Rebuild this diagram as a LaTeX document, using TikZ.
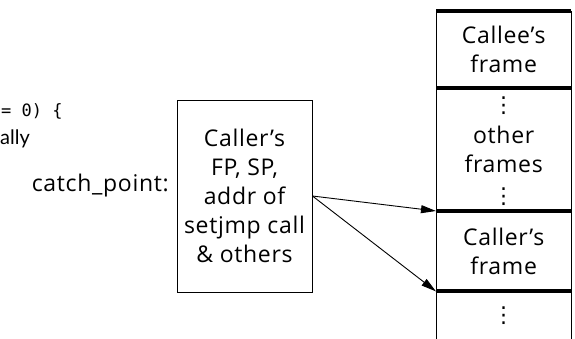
\documentclass[tikz,border=0pt]{standalone}
\usepackage{fontspec}
\setmainfont{Open Sans}[LetterSpace=3]
\newfontfamily\codefont{DejaVu Sans Mono}
\newfontfamily\slidefont{Lato}
\newfontfamily\symfont{DejaVu Sans}
\usetikzlibrary{arrows.meta}
\newcommand\vd{{\symfont\fontsize{22}{22}\selectfont ⋮}}
\begin{document}
\begin{tikzpicture}[x=1pt,y=-1pt,
  thinline/.style={line width=0.9pt},
  bar/.style={line width=4.5pt},
  txt/.style={font=\fontsize{23}{29}\selectfont, align=center, inner sep=0pt},
  framebox/.style={minimum width=135pt, inner sep=0pt, anchor=north west, txt},
  arr/.style={thinline, -{Triangle[length=15pt,width=8pt]}}]
\useasboundingbox (0,0) rectangle (575,339);
% partial code text at left
\node[anchor=west, inner sep=0pt, font=\codefont\fontsize{17}{20}\selectfont] (code) at (1,111) {= 0) \{};
\node[anchor=west, inner sep=0pt, font=\slidefont\fontsize{20}{22}\selectfont] (ally) at (0,139) {ally};
% jump buffer box
\node[draw, thinline, txt, minimum width=135pt, minimum height=192pt] (buf) at (244.5,196)
  {Caller's\\FP, SP,\\addr of\\setjmp call\\\& others};
\node[txt, anchor=east] (cp) at (169,186) {catch\_point:};
% stack frames
\node[framebox, minimum height=77pt] (callee) at (436,11) {Callee's\\frame};
\node[framebox, minimum height=123pt] (other) at (436,88) {};
\node[txt] (otext) at (other.center) {other\\frames};
\node[inner sep=0pt] (vda) at (503.5,106) {\vd};
\node[inner sep=0pt] (vdb) at (503.5,197) {\vd};
\node[framebox, minimum height=48pt] (rest) at (436,291) {\vd};
\node[framebox, minimum height=80pt] (caller) at (436,211) {Caller's\\frame};
\draw[thinline] (callee.north west) -- ([yshift=-10pt]rest.south west);
\draw[thinline] (callee.north east) -- ([yshift=-10pt]rest.south east);
\draw[bar] (callee.north west) -- (callee.north east);
\draw[bar] (other.north west) -- (other.north east);
\draw[bar] (caller.north west) -- (caller.north east);
\draw[bar] (rest.north west) -- (rest.north east);
% arrows
\draw[arr] (buf.east) -- (caller.north west);
\draw[arr] (buf.east) -- (caller.south west);
\end{tikzpicture}
\end{document}
